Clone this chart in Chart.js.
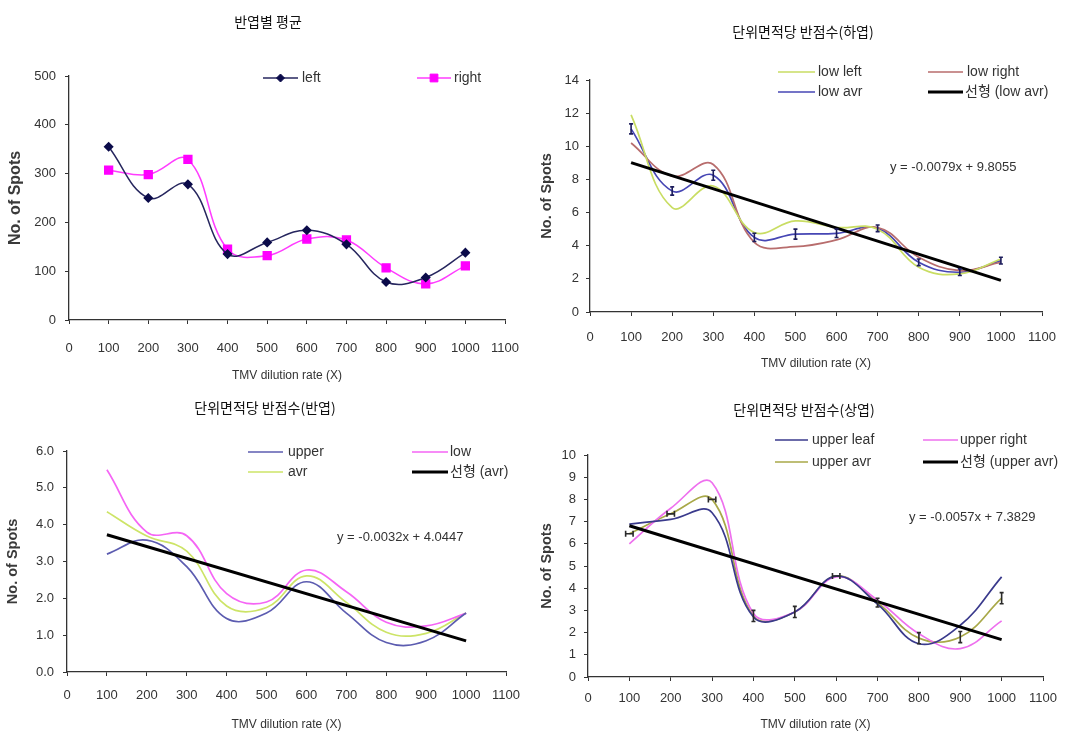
<!DOCTYPE html>
<html>
<head>
<meta charset="utf-8">
<script src="https://cdn.jsdelivr.net/npm/chart.js@4"></script>
<style>
  html, body { margin: 0; padding: 0; background: #fff; }
  body { width: 1074px; height: 735px; position: relative; overflow: hidden; }
  canvas { position: absolute; }
</style>
</head>
<body>
<canvas id="c1" width="537" height="385" style="left:0;top:0"></canvas>
<canvas id="c2" width="537" height="385" style="left:537px;top:0"></canvas>
<canvas id="c3" width="537" height="350" style="left:0;top:385px"></canvas>
<canvas id="c4" width="537" height="350" style="left:537px;top:385px"></canvas>
<script>
// TMV dilution rates (X)
const dilution = [100, 200, 300, 400, 500, 600, 700, 800, 900, 1000];

// 반엽별 평균 (spots per half leaf)
const halfLeft  = [355, 250, 278, 135, 159, 184, 155, 78, 87, 138];
const halfRight = [307, 298, 329, 145, 132, 166, 164, 107, 74, 111];

// 단위면적당 반점수 (하엽)
const lowLeft  = [11.9, 6.3, 7.6, 4.8, 5.5, 5.1, 5.0, 2.7, 2.3, 3.2];
const lowRight = [10.2, 8.2, 8.9, 4.2, 3.95, 4.35, 5.1, 3.3, 2.5, 3.0];
const lowAvr   = [11.05, 7.3, 8.25, 4.5, 4.7, 4.75, 5.05, 3.0, 2.4, 3.1];
const lowAvrErr = [0.3, 0.25, 0.3, 0.25, 0.3, 0.25, 0.2, 0.2, 0.2, 0.2];
const lowSlope = -0.0079;
const lowIntercept = 9.8055;

// 단위면적당 반점수 (반엽)
const midUpper = [3.2, 3.58, 2.86, 1.45, 1.6, 2.45, 1.6, 0.8, 0.85, 1.6];
const midLow   = [5.49, 3.8, 3.7, 2.13, 1.9, 2.77, 2.18, 1.35, 1.25, 1.59];
const midAvr   = [4.35, 3.69, 3.28, 1.79, 1.75, 2.61, 1.89, 1.08, 1.05, 1.6];
const midSlope = -0.0032;
const midIntercept = 4.0447;

// 단위면적당 반점수 (상엽)
const upLeaf  = [6.89, 7.1, 7.4, 2.7, 2.93, 4.54, 3.28, 1.5, 2.33, 4.51];
const upRight = [6.0, 7.6, 8.75, 2.86, 2.93, 4.51, 3.46, 1.95, 1.28, 2.53];
const upAvr   = [6.45, 7.35, 8.0, 2.75, 2.93, 4.55, 3.35, 1.75, 1.8, 3.55];
const upAvrErrY = [0, 0, 0, 0.25, 0.25, 0, 0.2, 0.25, 0.25, 0.25];
const upAvrErrX = [9, 9, 9, 0, 0, 9, 0, 0, 0, 0];
const upSlope = -0.0057;
const upIntercept = 7.3829;

const FONT = '"Liberation Sans", Arial, "Noto Sans CJK KR", sans-serif';
const KFONT = '"Noto Sans CJK KR", "Liberation Sans", sans-serif';

const pts = arr => dilution.map((x, i) => ({ x, y: arr[i] }));
const trendPts = (m, b) => [dilution[0], dilution[dilution.length - 1]].map(x => ({ x, y: m * x + b }));

function series(label, arr, color, extra) {
  return Object.assign({
    label, data: pts(arr), borderColor: color, backgroundColor: color,
    borderWidth: 1.7, tension: 0.4, pointRadius: 0, fill: false
  }, extra || {});
}
function trend(label, m, b) {
  return {
    label, data: trendPts(m, b), borderColor: '#000', backgroundColor: '#000',
    borderWidth: 3, tension: 0, pointRadius: 0, fill: false, order: -1
  };
}

// titles, equation text and the in-plot legend
const annotate = {
  id: 'annotate',
  afterDraw(chart, args, o) {
    const ctx = chart.ctx;
    ctx.save();
    ctx.textBaseline = 'middle';
    if (o.title) {
      ctx.font = '14px ' + KFONT;
      ctx.fillStyle = '#111';
      ctx.textAlign = 'center';
      ctx.fillText(o.title.text, o.title.x, o.title.y);
    }
    if (o.equation) {
      ctx.font = '13px ' + FONT;
      ctx.fillStyle = '#333';
      ctx.textAlign = 'left';
      ctx.fillText(o.equation.text, o.equation.x, o.equation.y);
    }
    (o.legend || []).forEach(it => {
      const ds = chart.data.datasets[it.ds];
      ctx.strokeStyle = ds.borderColor;
      ctx.lineWidth = ds.borderWidth;
      ctx.beginPath();
      ctx.moveTo(it.x1, it.y);
      ctx.lineTo(it.x2, it.y);
      ctx.stroke();
      if (ds.pointStyle && ds.pointRadius > 0) {
        ctx.fillStyle = ds.pointBackgroundColor;
        ctx.strokeStyle = ds.pointBorderColor;
        ctx.lineWidth = 1;
        Chart.helpers.drawPoint(ctx, { pointStyle: ds.pointStyle, radius: ds.pointRadius, borderWidth: 1, rotation: 0 },
          (it.x1 + it.x2) / 2, it.y);
      }
      ctx.font = '14px ' + FONT;
      ctx.fillStyle = '#333';
      ctx.textAlign = 'left';
      ctx.fillText(ds.label, it.tx, it.y);
    });
    ctx.restore();
  }
};

// small error markers on the average series
const errorBars = {
  id: 'errorBars',
  afterDatasetsDraw(chart) {
    const { ctx } = chart;
    const xs = chart.scales.x, ys = chart.scales.y;
    chart.data.datasets.forEach(ds => {
      if (!ds.errY && !ds.errX) return;
      ctx.save();
      ctx.strokeStyle = ds.errColor || '#222';
      ctx.lineWidth = 1.6;
      ds.data.forEach((p, i) => {
        const px = xs.getPixelForValue(p.x), py = ys.getPixelForValue(p.y);
        const ey = ds.errY ? ds.errY[i] : 0;
        const ex = ds.errX ? ds.errX[i] : 0;
        ctx.beginPath();
        if (ey) {
          const t = ys.getPixelForValue(p.y + ey), b = ys.getPixelForValue(p.y - ey);
          ctx.moveTo(px, t); ctx.lineTo(px, b);
          ctx.moveTo(px - 2, t); ctx.lineTo(px + 2, t);
          ctx.moveTo(px - 2, b); ctx.lineTo(px + 2, b);
        }
        if (ex) {
          const l = xs.getPixelForValue(p.x - ex), r = xs.getPixelForValue(p.x + ex);
          ctx.moveTo(l, py); ctx.lineTo(r, py);
          ctx.moveTo(l, py - 3); ctx.lineTo(l, py + 3);
          ctx.moveTo(r, py - 3); ctx.lineTo(r, py + 3);
        }
        ctx.stroke();
      });
      ctx.restore();
    });
  }
};

function makeChart(id, cfg) {
  const axisColor = '#333';
  return new Chart(document.getElementById(id), {
    type: 'line',
    data: { datasets: cfg.datasets },
    plugins: [errorBars, annotate],
    options: {
      responsive: false,
      animation: false,
      devicePixelRatio: 1,
      layout: { padding: cfg.padding },
      plugins: {
        legend: { display: false },
        tooltip: { enabled: false },
        annotate: cfg.annotate
      },
      scales: {
        x: {
          type: 'linear', min: 0, max: 1100,
          afterFit: a => { a.height = cfg.xH; },
          border: { display: true, color: axisColor, width: 1.3 },
          grid: { display: true, drawOnChartArea: false, drawTicks: true, tickLength: 4, color: axisColor },
          ticks: { stepSize: 100, color: '#333', padding: cfg.xPad, maxRotation: 0, autoSkip: false,
                   font: { family: FONT, size: 13 }, callback: v => String(v) },
          title: { display: true, text: 'TMV dilution rate (X)', color: '#333',
                   font: { family: FONT, size: 12 }, padding: { top: 0, bottom: 0 } }
        },
        y: {
          type: 'linear', min: 0, max: cfg.yMax,
          afterFit: a => { a.width = cfg.yW; },
          border: { display: true, color: axisColor, width: 1.3 },
          grid: { display: true, drawOnChartArea: false, drawTicks: true, tickLength: 4, color: axisColor },
          ticks: { stepSize: cfg.yStep, color: '#333', padding: cfg.yPad,
                   font: { family: FONT, size: 13 }, callback: cfg.yFmt || (v => String(v)) },
          title: { display: true, text: 'No. of Spots', color: '#3a3a3a',
                   font: { family: FONT, size: cfg.yTitleSize, weight: 'bold' }, padding: { top: cfg.yTitlePad, bottom: 0 } }
        }
      }
    }
  });
}

// 반엽별 평균
makeChart('c1', {
  datasets: [
    series('left', halfLeft, '#26265e', { pointStyle: 'rectRot', pointRadius: 4, pointBackgroundColor: '#0b0b4a', pointBorderColor: '#0b0b4a', borderWidth: 1.5 }),
    series('right', halfRight, '#ff3cff', { pointStyle: 'rect', pointRadius: 5.5, pointBackgroundColor: '#ff00ff', pointBorderColor: '#ff00ff', borderWidth: 1.5 })
  ],
  padding: { top: 76, right: 32, bottom: 2, left: 0 },
  xH: 63, yW: 69, xPad: 17, yPad: 9, yMax: 500, yStep: 100, yTitleSize: 16, yTitlePad: 6,
  annotate: {
    title: { text: '반엽별 평균', x: 268, y: 22 },
    legend: [
      { ds: 0, x1: 263, x2: 298, y: 78, tx: 302 },
      { ds: 1, x1: 417, x2: 451, y: 78, tx: 454 }
    ]
  }
});

// 단위면적당 반점수(하엽)
makeChart('c2', {
  datasets: [
    series('low left', lowLeft, '#c9dd63'),
    series('low right', lowRight, '#b86d6d'),
    series('low avr', lowAvr, '#4646b4', { errY: lowAvrErr, errColor: '#1c1c5c' }),
    trend('선형 (low avr)', lowSlope, lowIntercept)
  ],
  padding: { top: 80, right: 32, bottom: 14, left: 0 },
  xH: 59, yW: 53, xPad: 14, yPad: 7, yMax: 14, yStep: 2, yTitleSize: 14.5, yTitlePad: 1,
  annotate: {
    title: { text: '단위면적당 반점수(하엽)', x: 266, y: 32 },
    equation: { text: 'y = -0.0079x + 9.8055', x: 353, y: 167 },
    legend: [
      { ds: 0, x1: 241, x2: 278, y: 72, tx: 281 },
      { ds: 1, x1: 391, x2: 426, y: 72, tx: 430 },
      { ds: 2, x1: 241, x2: 278, y: 92, tx: 281 },
      { ds: 3, x1: 391, x2: 426, y: 92, tx: 428 }
    ]
  }
});

// 단위면적당 반점수(반엽)
makeChart('c3', {
  datasets: [
    series('upper', midUpper, '#5c5cb0'),
    series('low', midLow, '#f565f5'),
    series('avr', midAvr, '#cde467'),
    trend('선형 (avr)', midSlope, midIntercept)
  ],
  padding: { top: 66, right: 31, bottom: 3, left: 0 },
  xH: 60, yW: 67, xPad: 12, yPad: 9, yMax: 6, yStep: 1, yTitleSize: 14.5, yTitlePad: 4,
  yFmt: v => v.toFixed(1),
  annotate: {
    title: { text: '단위면적당 반점수(반엽)', x: 265, y: 23 },
    equation: { text: 'y = -0.0032x + 4.0447', x: 337, y: 152 },
    legend: [
      { ds: 0, x1: 248, x2: 283, y: 67, tx: 288 },
      { ds: 1, x1: 412, x2: 448, y: 67, tx: 450 },
      { ds: 2, x1: 248, x2: 283, y: 87, tx: 288 },
      { ds: 3, x1: 412, x2: 448, y: 87, tx: 450 }
    ]
  }
});

// 단위면적당 반점수(상엽)
makeChart('c4', {
  datasets: [
    series('upper leaf', upLeaf, '#3a3a8c'),
    series('upper right', upRight, '#ee70ee'),
    series('upper avr', upAvr, '#a8a848', { errY: upAvrErrY, errX: upAvrErrX, errColor: '#2a2a2a' }),
    trend('선형 (upper avr)', upSlope, upIntercept)
  ],
  padding: { top: 70, right: 31, bottom: 3, left: 0 },
  xH: 55, yW: 51, xPad: 10, yPad: 8, yMax: 10, yStep: 1, yTitleSize: 14.5, yTitlePad: 1,
  annotate: {
    title: { text: '단위면적당 반점수(상엽)', x: 267, y: 25 },
    equation: { text: 'y = -0.0057x + 7.3829', x: 372, y: 132 },
    legend: [
      { ds: 0, x1: 238, x2: 271, y: 55, tx: 275 },
      { ds: 1, x1: 386, x2: 421, y: 55, tx: 423 },
      { ds: 2, x1: 238, x2: 271, y: 77, tx: 275 },
      { ds: 3, x1: 386, x2: 421, y: 77, tx: 423 }
    ]
  }
});
</script>
</body>
</html>
